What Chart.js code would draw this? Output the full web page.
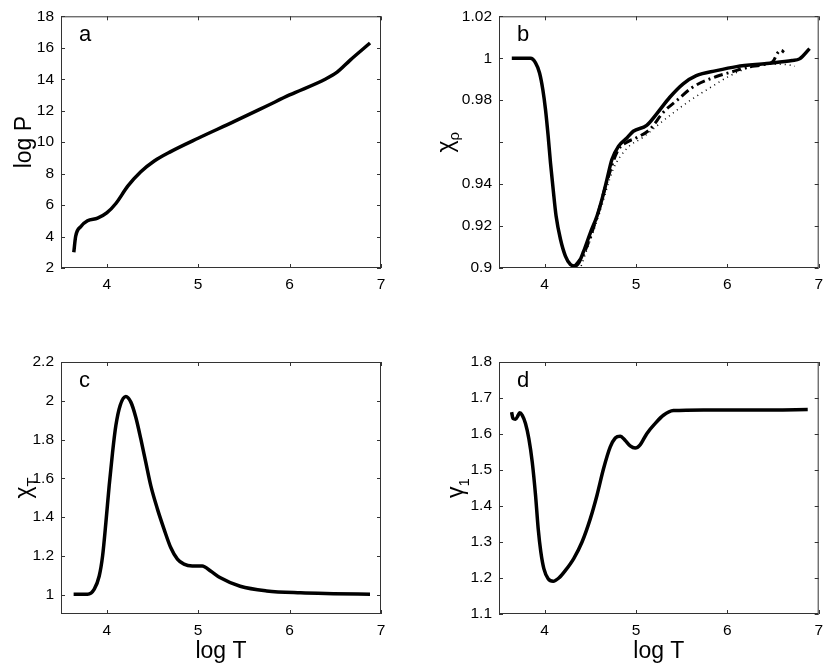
<!DOCTYPE html>
<html>
<head>
<meta charset="utf-8">
<script src="https://cdn.jsdelivr.net/npm/chart.js@4"></script>
<style>
  body { margin: 0; background: #fff; }
  #wrap { position: relative; width: 830px; height: 666px; background: #fff; }
  #wrap canvas { position: absolute; }
</style>
</head>
<body>
<div id="wrap">
  <canvas id="ca" width="415" height="333" style="left:0;top:0"></canvas>
  <canvas id="cb" width="415" height="333" style="left:415px;top:0"></canvas>
  <canvas id="cc" width="415" height="333" style="left:0;top:333px"></canvas>
  <canvas id="cd" width="415" height="333" style="left:415px;top:333px"></canvas>
</div>
<script>
const FONT = '"Liberation Sans", Arial, Helvetica, sans-serif';

// shared x axis (log T)
const xTicks = [4, 5, 6, 7];

// panel a: log P
const aT = [3.64, 3.66, 3.72, 3.79, 3.90, 4.0, 4.1, 4.23, 4.37, 4.52, 4.70, 5.0, 5.39, 5.75, 6.0, 6.39, 6.52, 6.66, 6.88];
const aP = [3.0, 4.0, 4.65, 5.0, 5.17, 5.5, 6.1, 7.2, 8.1, 8.8, 9.4, 10.25, 11.3, 12.3, 13.0, 14.0, 14.45, 15.2, 16.3];
const aTicks = [2, 4, 6, 8, 10, 12, 14, 16, 18];

// panel b: chi_rho, three tables
const bT = [3.64, 3.845, 3.90, 3.944, 3.98, 4.009, 4.038, 4.064, 4.093, 4.125, 4.173, 4.227, 4.282, 4.329, 4.373, 4.427,
            4.50, 4.573, 4.627, 4.682, 4.736, 4.809, 4.90, 4.97, 5.117, 5.226, 5.37, 5.516, 5.66, 5.88, 6.10, 6.43, 6.71, 6.79, 6.90];
const bRho = [1.0, 1.0, 0.9978, 0.993, 0.985, 0.9756, 0.963, 0.950, 0.9375, 0.9248, 0.9137, 0.9057, 0.9017, 0.901, 0.9025, 0.908,
              0.9168, 0.9248, 0.9327, 0.9422, 0.9517, 0.9581, 0.962, 0.9652, 0.968, 0.9735, 0.9814, 0.9878, 0.9917, 0.9941, 0.996, 0.9975, 0.9989, 0.9997, 1.0046];
const bT2 = [4.33, 4.43, 4.57, 4.68, 4.80, 4.90, 5.0, 5.15, 5.30, 5.45, 5.62, 5.88, 6.05, 6.2, 6.4, 6.5, 6.55, 6.59, 6.62];
const bRho2 = [0.901, 0.907, 0.924, 0.941, 0.956, 0.960, 0.962, 0.966, 0.9743, 0.980, 0.9862, 0.9913, 0.9935, 0.9955, 0.997, 0.9985, 1.0025, 1.0038, 1.0028];
const bT3 = [4.40, 4.6, 4.75, 4.90, 5.08, 5.30, 5.59, 5.88, 6.0, 6.24, 6.49, 6.65, 6.74];
const bRho3 = [0.901, 0.926, 0.947, 0.957, 0.9624, 0.9703, 0.9798, 0.9878, 0.991, 0.9955, 0.9972, 0.9970, 0.9962];
const bTicks = [0.9, 0.92, 0.94, 0.96, 0.98, 1, 1.02];
const bLabels = ['0.9', '0.92', '0.94', '', '0.98', '1', '1.02'];

// panel c: chi_T
const cT = [3.638, 3.791, 3.864, 3.918, 3.955, 3.991, 4.027, 4.064, 4.10, 4.147, 4.209, 4.264, 4.318, 4.373, 4.427, 4.482,
            4.555, 4.627, 4.70, 4.773, 4.845, 4.936, 5.045, 5.136, 5.238, 5.46, 5.75, 6.12, 6.48, 6.88];
const cChi = [1.002, 1.002, 1.028, 1.096, 1.2, 1.372, 1.562, 1.734, 1.872, 1.976, 2.022, 1.993, 1.915, 1.803, 1.683, 1.562,
              1.441, 1.338, 1.243, 1.183, 1.157, 1.148, 1.148, 1.122, 1.088, 1.043, 1.019, 1.009, 1.005, 1.002];
const cTicks = [1, 1.2, 1.4, 1.6, 1.8, 2, 2.2];
const cLabels = ['1', '1.2', '1.4', '1.6', '1.8', '2', '2.2'];

// panel d: gamma_1
const dT = [3.638, 3.653, 3.68, 3.71, 3.725, 3.755, 3.79, 3.827, 3.864, 3.90, 3.929, 3.958, 3.991, 4.038, 4.093, 4.155,
            4.227, 4.318, 4.409, 4.50, 4.573, 4.645, 4.718, 4.773, 4.827, 4.882, 4.936, 4.991, 5.045, 5.118, 5.209,
            5.30, 5.41, 5.74, 6.10, 6.50, 6.88];
const dGam = [1.661, 1.643, 1.641, 1.652, 1.659, 1.652, 1.629, 1.587, 1.522, 1.43, 1.337, 1.272, 1.226, 1.198, 1.191, 1.20,
              1.221, 1.254, 1.30, 1.365, 1.43, 1.504, 1.564, 1.589, 1.594, 1.582, 1.567, 1.561, 1.570, 1.601, 1.629,
              1.652, 1.665, 1.667, 1.667, 1.667, 1.668];
const dTicks = [1.1, 1.2, 1.3, 1.4, 1.5, 1.6, 1.7, 1.8];

const pts = (xs, ys) => xs.map((x, i) => ({x, y: ys[i]}));

// box, inward ticks, panel letter and axis titles in MATLAB style
const framePlugin = {
    id: 'frame',
    afterDraw(chart, args, o) {
        const ctx = chart.ctx;
        const a = chart.chartArea;
        const xs = chart.scales.x, ys = chart.scales.y;
        ctx.save();
        ctx.strokeStyle = '#333';
        ctx.lineWidth = 1;
        ctx.strokeRect(a.left + 0.5, a.top + 0.5, a.right - a.left - 1, a.bottom - a.top - 1);
        const tl = 4;
        ctx.beginPath();
        xs.ticks.forEach(t => {
            const px = Math.round(xs.getPixelForValue(t.value)) + 0.5;
            ctx.moveTo(px, a.bottom); ctx.lineTo(px, a.bottom - tl);
            ctx.moveTo(px, a.top); ctx.lineTo(px, a.top + tl);
        });
        ys.ticks.forEach(t => {
            const py = Math.round(ys.getPixelForValue(t.value)) + 0.5;
            ctx.moveTo(a.left, py); ctx.lineTo(a.left + tl, py);
            ctx.moveTo(a.right, py); ctx.lineTo(a.right - tl, py);
        });
        ctx.stroke();

        ctx.fillStyle = '#000';
        ctx.font = '22px ' + FONT;
        ctx.textAlign = 'left';
        ctx.textBaseline = 'alphabetic';
        ctx.fillText(o.letter, a.left + 18, a.top + 25);

        // y title, rotated, with optional subscript
        ctx.translate(a.left - o.yOff, (a.top + a.bottom) / 2);
        ctx.rotate(-Math.PI / 2);
        ctx.textBaseline = 'middle';
        ctx.font = '23px ' + FONT;
        const wMain = ctx.measureText(o.yMain).width;
        ctx.font = '15px ' + FONT;
        const wSub = o.ySub ? ctx.measureText(o.ySub).width : 0;
        const x0 = -(wMain + wSub) / 2;
        ctx.font = '23px ' + FONT;
        ctx.fillText(o.yMain, x0, 0);
        if (o.ySub) {
            ctx.font = '15px ' + FONT;
            ctx.fillText(o.ySub, x0 + wMain, 8);
        }
        ctx.setTransform(1, 0, 0, 1, 0, 0);

        if (o.xTitle) {
            ctx.font = '23px ' + FONT;
            ctx.textAlign = 'center';
            ctx.textBaseline = 'middle';
            ctx.fillText(o.xTitle, (a.left + a.right) / 2, a.bottom + 38);
        }
        ctx.restore();
    }
};

function makeChart(id, cfg) {
    const yVals = cfg.yTicks;
    const yLabs = cfg.yLabels || yVals.map(String);
    return new Chart(document.getElementById(id), {
        type: 'line',
        data: {datasets: cfg.datasets},
        options: {
            responsive: false,
            animation: false,
            layout: {padding: {top: cfg.padTop, right: cfg.padRight, left: 0, bottom: 0}},
            plugins: {
                legend: {display: false},
                tooltip: {enabled: false},
                frame: cfg.frame
            },
            elements: {point: {radius: 0}, line: {cubicInterpolationMode: 'monotone'}},
            scales: {
                x: {
                    type: 'linear', min: 3.5, max: 7,
                    grid: {display: false, drawTicks: false},
                    border: {display: false},
                    afterBuildTicks: s => { s.ticks = xTicks.map(v => ({value: v})); },
                    afterFit: s => { s.height = cfg.xHeight; },
                    ticks: {autoSkip: false, maxRotation: 0, padding: 7, color: '#000',
                            font: {family: FONT, size: 15.5},
                            callback: v => String(v)}
                },
                y: {
                    type: 'linear', min: cfg.yMin, max: cfg.yMax,
                    grid: {display: false, drawTicks: false},
                    border: {display: false},
                    afterBuildTicks: s => { s.ticks = yVals.map(v => ({value: v})); },
                    afterFit: s => { s.width = cfg.yWidth; },
                    ticks: {autoSkip: false, padding: 7, color: '#000',
                            font: {family: FONT, size: 15.5},
                            callback: (v, i) => yLabs[i]}
                }
            }
        },
        plugins: [framePlugin]
    });
}

const solid = (data) => ({data, borderColor: '#000', borderWidth: 3.5, fill: false});

makeChart('ca', {
    datasets: [solid(pts(aT, aP))],
    yMin: 2, yMax: 18, yTicks: aTicks,
    padTop: 16, padRight: 34, yWidth: 61, xHeight: 65,
    frame: {letter: 'a', yMain: 'log P', yOff: 36}
});

makeChart('cb', {
    datasets: [
        {data: pts(bT3, bRho3), borderColor: '#000', borderWidth: 1.5, borderDash: [1, 4], fill: false},
        {data: pts(bT2, bRho2), borderColor: '#000', borderWidth: 3, borderDash: [9, 4, 2, 4], fill: false},
        solid(pts(bT, bRho))
    ],
    yMin: 0.9, yMax: 1.02, yTicks: bTicks, yLabels: bLabels,
    padTop: 16, padRight: 10, yWidth: 84, xHeight: 65,
    frame: {letter: 'b', yMain: 'χ', ySub: 'ρ', yOff: 52}
});

makeChart('cc', {
    datasets: [solid(pts(cT, cChi))],
    yMin: 0.9, yMax: 2.2, yTicks: cTicks, yLabels: cLabels,
    padTop: 29, padRight: 34, yWidth: 61, xHeight: 52,
    frame: {letter: 'c', yMain: 'χ', ySub: 'T', yOff: 36, xTitle: 'log T'}
});

makeChart('cd', {
    datasets: [solid(pts(dT, dGam))],
    yMin: 1.1, yMax: 1.8, yTicks: dTicks,
    padTop: 29, padRight: 11, yWidth: 84, xHeight: 52,
    frame: {letter: 'd', yMain: 'γ', ySub: '1', yOff: 42, xTitle: 'log T'}
});
</script>
</body>
</html>
